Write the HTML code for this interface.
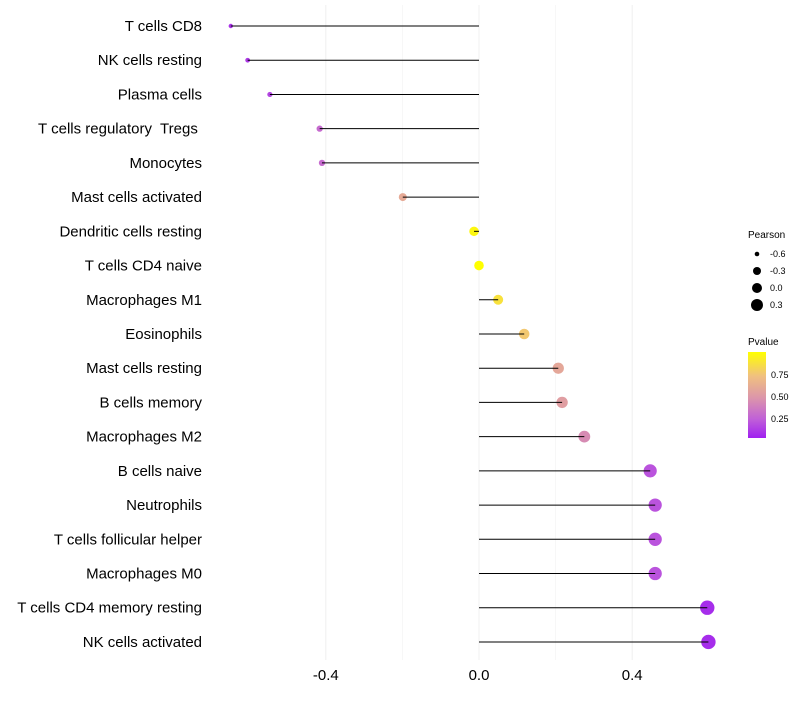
<!DOCTYPE html>
<html><head><meta charset="utf-8"><style>
body{margin:0;background:#fff;font-family:"Liberation Sans",sans-serif}
text{white-space:pre}
</style></head><body>
<svg id="chart" width="800" height="700" xmlns="http://www.w3.org/2000/svg">
<g id="grid"></g><g id="marks"></g><g id="labels"></g>
<g font-size="9">
<text x="748" y="238" font-size="10">Pearson</text>
<circle cx="757" cy="254" r="2.3" fill="#000"/><text x="770" y="257">-0.6</text>
<circle cx="757" cy="271" r="4" fill="#000"/><text x="770" y="274">-0.3</text>
<circle cx="757" cy="288" r="5" fill="#000"/><text x="770" y="291">0.0</text>
<circle cx="757" cy="305" r="6" fill="#000"/><text x="770" y="308">0.3</text>
</g>
<g font-size="9">
<defs><linearGradient id="pg" x1="0" y1="0" x2="0" y2="1">
<stop offset="0" stop-color="#ffff00"/><stop offset="0.28" stop-color="#f0c080"/><stop offset="0.53" stop-color="#dc96aa"/><stop offset="0.78" stop-color="#c060d8"/><stop offset="1" stop-color="#a020f0"/></linearGradient></defs>
<text x="748" y="345" font-size="10">Pvalue</text>
<rect x="748" y="352" width="18" height="86" fill="url(#pg)"/>
<text x="771" y="378">0.75</text><text x="771" y="400">0.50</text><text x="771" y="422">0.25</text>
</g>
</svg>
<script>
const cells=["T cells CD8","NK cells resting","Plasma cells","T cells regulatory  Tregs ","Monocytes","Mast cells activated","Dendritic cells resting","T cells CD4 naive","Macrophages M1","Eosinophils","Mast cells resting","B cells memory","Macrophages M2","B cells naive","Neutrophils","T cells follicular helper","Macrophages M0","T cells CD4 memory resting","NK cells activated"];
const pearson=[-0.648,-0.604,-0.546,-0.416,-0.41,-0.199,-0.013,0.0,0.05,0.118,0.207,0.217,0.275,0.447,0.46,0.46,0.46,0.596,0.599];
const pvalue=[0.08,0.1,0.15,0.3,0.3,0.62,0.97,1.0,0.88,0.78,0.6,0.55,0.45,0.2,0.2,0.2,0.2,0.05,0.05];
const ticks=[-0.4,0.0,0.4];
const minor=[-0.2,0.2];
const NS="http://www.w3.org/2000/svg";
const xS=v=>479+v*383;
const yS=i=>26+i*34.22;
const rS=p=>2.2+(p+0.65)*4;
function col(p){const st=[[0,[160,32,240]],[0.25,[192,96,216]],[0.5,[220,150,170]],[0.75,[240,192,128]],[1,[255,255,0]]];
for(let k=1;k<st.length;k++){if(p<=st[k][0]){const t=(p-st[k-1][0])/(st[k][0]-st[k-1][0]);const a=st[k-1][1],b=st[k][1];return`rgb(${a.map((c,j)=>Math.round(c+(b[j]-c)*t)).join(",")})`;}}return"rgb(255,255,0)";}
function mk(t,a,parent){const e=document.createElementNS(NS,t);for(const k in a)e.setAttribute(k,a[k]);parent.appendChild(e);return e;}
const grid=document.getElementById("grid"),marks=document.getElementById("marks"),labels=document.getElementById("labels");
minor.forEach(v=>{const l=mk("line",{x1:xS(v),x2:xS(v),y1:5,y2:660,stroke:"#f5f5f5","stroke-width":0.8},grid);

});
ticks.forEach(v=>{const l=mk("line",{x1:xS(v),x2:xS(v),y1:5,y2:660,stroke:"#f0f0f0","stroke-width":1},grid);


const t=mk("text",{x:xS(v),y:680,"text-anchor":"middle","font-size":15,fill:"#000"},labels);t.textContent=v.toFixed(1);

});
cells.forEach((c,i)=>{const y=yS(i);
const p=mk("circle",{cx:xS(pearson[i]),cy:y,r:rS(pearson[i]),fill:col(pvalue[i])},marks);


const l=mk("line",{x1:xS(0),x2:xS(pearson[i]),y1:y,y2:y,stroke:"#000","stroke-width":1},marks);


const t=mk("text",{x:202,y:y+5,"text-anchor":"end","font-size":15,fill:"#000"},labels);t.textContent=c;

});
</script>
</body></html>
